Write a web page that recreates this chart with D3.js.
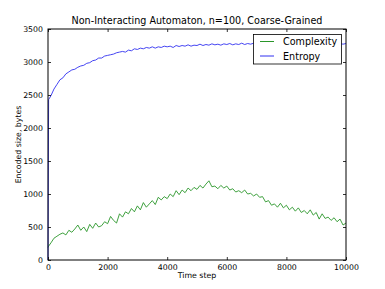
<!DOCTYPE html>
<html><head><meta charset="utf-8">
<script src="https://cdn.jsdelivr.net/npm/d3@7"></script>
<style>
html,body{margin:0;padding:0;background:#fff;}
text{font-family:"DejaVu Sans",sans-serif;fill:#000;}
</style></head>
<body><svg id="c" width="385" height="289"></svg>
<script>
const title = "Non-Interacting Automaton, n=100, Coarse-Grained";
const xLabel = "Time step";
const yLabel = "Encoded size, bytes";
const seriesNames = ["Complexity", "Entropy"];
const xTicks = [0, 2000, 4000, 6000, 8000, 10000];
const yTicks = [0, 500, 1000, 1500, 2000, 2500, 3000, 3500];
const steps = [0, 20].concat(d3.range(100, 10001, 100));
const complexity = [190, 210,
 260, 330, 360, 390, 410, 380, 450, 420, 470, 530,
 450, 500, 430, 540, 480, 560, 500, 520, 580, 550,
 660, 600, 560, 700, 650, 730, 700, 780, 730, 820,
 760, 870, 800, 850, 900, 840, 950, 910, 960, 930,
 1000, 960, 1050, 990, 1060, 1020, 1090, 1050, 1100, 1070,
 1130, 1090, 1150, 1200, 1110, 1120, 1080, 1130, 1090, 1120,
 1060, 1080, 1030, 1050, 1020, 1060, 1000, 1010, 970, 1000,
 950, 960, 880, 900, 830, 850, 800, 860, 790, 830,
 760, 800, 740, 790, 720, 750, 700, 760, 680, 720,
 620, 700, 630, 650, 600, 640, 580, 620, 530, 560];
const entropy = [0, 2430,
 2490, 2590, 2660, 2730, 2760, 2820, 2850, 2880, 2890, 2920,
 2940, 2950, 2980, 2990, 3020, 3030, 3060, 3060, 3090, 3100,
 3110, 3120, 3140, 3150, 3160, 3150, 3180, 3170, 3200, 3190,
 3210, 3200, 3220, 3210, 3230, 3210, 3230, 3220, 3240, 3230,
 3240, 3220, 3250, 3235, 3250, 3240, 3260, 3240, 3255, 3250,
 3270, 3250, 3265, 3255, 3275, 3260, 3270, 3255, 3275, 3265,
 3280, 3260, 3275, 3265, 3285, 3265, 3280, 3270, 3285, 3265,
 3280, 3270, 3290, 3270, 3280, 3265, 3285, 3275, 3270, 3285,
 3265, 3280, 3275, 3290, 3270, 3280, 3270, 3285, 3275, 3280,
 3265, 3285, 3275, 3280, 3270, 3290, 3275, 3280, 3270, 3280];
const colors = ["#2a962a", "#3030f0"];

const svg = d3.select("#c");
const L = 48, R = 346, T = 29, B = 260;
const x = d3.scaleLinear().domain([0, 10000]).range([L, R]);
const y = d3.scaleLinear().domain([0, 3500]).range([B, T]);

const line = d3.line().x((d, i) => x(steps[i])).y(d => y(d));
[complexity, entropy].forEach((s, k) => {
  svg.append("path").attr("d", line(s)).attr("fill", "none")
    .attr("stroke", colors[k]).attr("stroke-width", 0.9).attr("stroke-linejoin", "round");
});

const fs = 7.8;
const gB = svg.append("g").attr("transform", `translate(0,${B})`)
  .call(d3.axisBottom(x).tickValues(xTicks).tickSize(-3).tickPadding(5).tickFormat(d3.format("d")));
const gT = svg.append("g").attr("transform", `translate(0,${T})`)
  .call(d3.axisTop(x).tickValues(xTicks).tickSize(-3).tickFormat(""));
const gL = svg.append("g").attr("transform", `translate(${L},0)`)
  .call(d3.axisLeft(y).tickValues(yTicks).tickSize(-3).tickPadding(5).tickFormat(d3.format("d")));
const gR = svg.append("g").attr("transform", `translate(${R},0)`)
  .call(d3.axisRight(y).tickValues(yTicks).tickSize(-3).tickFormat(""));
[gB, gT, gL, gR].forEach(g => {
  g.select(".domain").remove();
  g.selectAll("line").attr("stroke", "#000").attr("stroke-width", 0.8);
  g.selectAll("text").style("font-size", fs + "px").attr("fill", "#000");
});
gB.selectAll("text").attr("dy", "0.6em");
svg.append("rect").attr("x", L).attr("y", T).attr("width", R - L).attr("height", B - T)
  .attr("fill", "none").attr("stroke", "#000").attr("stroke-width", 1);

svg.append("text").attr("x", (L + R) / 2).attr("y", 24).attr("text-anchor", "middle")
  .style("font-size", "9.6px").text(title);
svg.append("text").attr("x", (L + R) / 2).attr("y", 278).attr("text-anchor", "middle")
  .style("font-size", "7.8px").text(xLabel);
svg.append("text").attr("transform", `translate(21,${(T + B) / 2}) rotate(-90)`)
  .attr("text-anchor", "middle").style("font-size", "7.8px").text(yLabel);

const lg = svg.append("g");
lg.append("rect").attr("x", 253.5).attr("y", 34.5).attr("width", 88).attr("height", 29.5)
  .attr("fill", "#fff").attr("stroke", "#000").attr("stroke-width", 0.8);
seriesNames.forEach((n, k) => {
  const yy = 41.5 + k * 14.5;
  lg.append("line").attr("x1", 260).attr("x2", 274).attr("y1", yy).attr("y2", yy)
    .attr("stroke", colors[k]).attr("stroke-width", 1);
  lg.append("text").attr("x", 283).attr("y", yy + 3.5).style("font-size", "9.6px").text(n);
});
</script></body></html>
